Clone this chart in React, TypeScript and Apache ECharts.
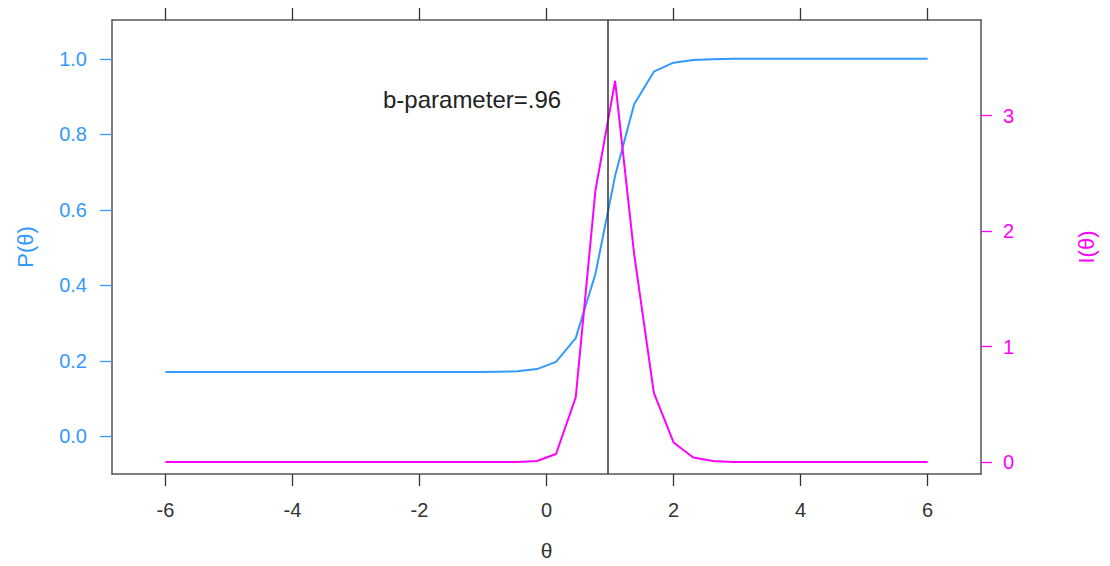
import React, { useEffect, useRef } from "react";
import * as echarts from "echarts";

// Ability grid (40 points from -6 to 6)
const theta = [
  -6.0, -5.69, -5.38, -5.08, -4.77, -4.46, -4.15, -3.85, -3.54, -3.23,
  -2.92, -2.62, -2.31, -2.0, -1.69, -1.38, -1.08, -0.77, -0.46, -0.15,
  0.15, 0.46, 0.77, 1.08, 1.38, 1.69, 2.0, 2.31, 2.62, 2.92,
  3.23, 3.54, 3.85, 4.15, 4.46, 4.77, 5.08, 5.38, 5.69, 6.0,
];

// Item characteristic curve P(θ)
const probability = [
  0.17, 0.17, 0.17, 0.17, 0.17, 0.17, 0.17, 0.17, 0.17, 0.17,
  0.17, 0.17, 0.17, 0.17, 0.17, 0.17, 0.17, 0.171, 0.172, 0.178,
  0.197, 0.26, 0.43, 0.69, 0.88, 0.966, 0.99, 0.997, 0.999, 1.0,
  1.0, 1.0, 1.0, 1.0, 1.0, 1.0, 1.0, 1.0, 1.0, 1.0,
];

// Item information curve I(θ)
const information = [
  0, 0, 0, 0, 0, 0, 0, 0, 0, 0,
  0, 0, 0, 0, 0, 0, 0, 0, 0, 0.01,
  0.07, 0.56, 2.35, 3.3, 1.8, 0.6, 0.17, 0.04, 0.01, 0,
  0, 0, 0, 0, 0, 0, 0, 0, 0, 0,
];

const bParameter = 0.96;
const xTicks = [-6, -4, -2, 0, 2, 4, 6];
const pTicks = [0, 0.2, 0.4, 0.6, 0.8, 1.0];
const iTicks = [0, 1, 2, 3];

const BLUE = "#3399ff";
const MAGENTA = "#ff00ff";
const FRAME = "#555555";
const FONT = "'Liberation Sans', Arial, sans-serif";

export default function App() {
  const ref = useRef<HTMLDivElement>(null);

  useEffect(() => {
    if (!ref.current) return;
    const chart = echarts.init(ref.current, null, { renderer: "svg" });

    const frameLine = {
      show: true,
      onZero: false,
      lineStyle: { color: FRAME, width: 1.5 },
    };

    chart.setOption({
      animation: false,
      backgroundColor: "#ffffff",
      textStyle: { fontFamily: FONT },
      grid: { left: 112, right: 129, top: 20, bottom: 90, containLabel: false },
      xAxis: [
        {
          type: "value",
          position: "bottom",
          min: -6.84,
          max: 6.84,
          axisLine: frameLine,
          axisTick: {
            show: true,
            length: 12,
            customValues: xTicks,
            lineStyle: { color: "#333", width: 1.3 },
          },
          axisLabel: {
            customValues: xTicks,
            fontSize: 20,
            margin: 26,
            color: "#333",
            fontFamily: FONT,
          },
          splitLine: { show: false },
          name: "θ",
          nameLocation: "middle",
          nameGap: 66,
          nameTextStyle: { fontSize: 21, color: "#333", fontFamily: FONT },
        },
        {
          type: "value",
          position: "top",
          min: -6.84,
          max: 6.84,
          axisLine: frameLine,
          axisTick: {
            show: true,
            length: 12,
            customValues: xTicks,
            lineStyle: { color: "#333", width: 1.3 },
          },
          axisLabel: { show: false },
          splitLine: { show: false },
        },
      ],
      yAxis: [
        {
          type: "value",
          position: "left",
          min: -0.1,
          max: 1.103,
          axisLine: frameLine,
          axisTick: {
            show: true,
            length: 12,
            customValues: pTicks,
            lineStyle: { color: BLUE, width: 1.3 },
          },
          axisLabel: {
            customValues: pTicks,
            formatter: (v: number) => v.toFixed(1),
            fontSize: 20,
            margin: 25,
            color: BLUE,
            fontFamily: FONT,
          },
          splitLine: { show: false },
          name: "P(θ)",
          nameLocation: "middle",
          nameRotate: 90,
          nameGap: 76,
          nameTextStyle: { fontSize: 22, color: BLUE, fontFamily: FONT },
        },
        {
          type: "value",
          position: "right",
          min: -0.103,
          max: 3.828,
          axisLine: frameLine,
          axisTick: {
            show: true,
            length: 11,
            customValues: iTicks,
            lineStyle: { color: MAGENTA, width: 1.3 },
          },
          axisLabel: {
            customValues: iTicks,
            fontSize: 20,
            margin: 22,
            color: MAGENTA,
            fontFamily: FONT,
          },
          splitLine: { show: false },
          name: "I(θ)",
          nameLocation: "middle",
          nameRotate: 90,
          nameGap: 94,
          nameTextStyle: { fontSize: 22, color: MAGENTA, fontFamily: FONT },
        },
      ],
      series: [
        {
          type: "line",
          name: "P(θ)",
          xAxisIndex: 0,
          yAxisIndex: 0,
          data: theta.map((t, i) => [t, probability[i]]),
          showSymbol: false,
          lineStyle: { color: BLUE, width: 2 },
          itemStyle: { color: BLUE },
          markLine: {
            silent: true,
            symbol: "none",
            label: { show: false },
            lineStyle: { color: "#333", width: 1.5, type: "solid" },
            data: [{ xAxis: bParameter }],
          },
        },
        {
          type: "line",
          name: "I(θ)",
          xAxisIndex: 0,
          yAxisIndex: 1,
          data: theta.map((t, i) => [t, information[i]]),
          showSymbol: false,
          lineStyle: { color: MAGENTA, width: 2 },
          itemStyle: { color: MAGENTA },
        },
      ],
      graphic: [
        {
          type: "text",
          left: 383,
          top: 87,
          style: {
            text: "b-parameter=.96",
            fontSize: 24,
            fontFamily: FONT,
            fill: "#222",
          },
        },
      ],
    });

    return () => chart.dispose();
  }, []);

  return (
    <div
      ref={ref}
      style={{ position: "absolute", left: 0, top: 0, width: 1110, height: 566 }}
    />
  );
}
